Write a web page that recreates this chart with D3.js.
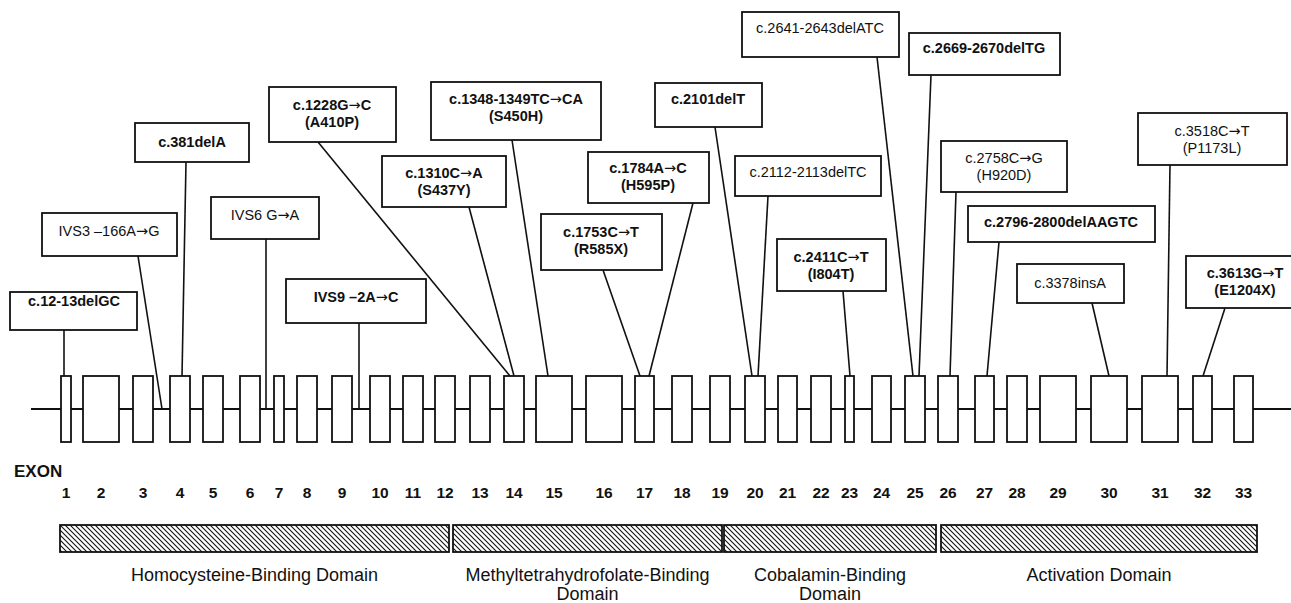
<!DOCTYPE html>
<html>
<head>
<meta charset="utf-8">
<script src="https://cdn.jsdelivr.net/npm/d3@7"></script>
<style>
  body { margin: 0; background: #fff; }
  text { font-family: "Liberation Sans", Arial, Helvetica, sans-serif; fill: #111; }
  .arrow { font-family: "DejaVu Sans", sans-serif; font-weight: normal; }
</style>
</head>
<body>
<div id="chart"></div>
<script>
// exon data (schematic gene units)
const exonNames = ["1","2","3","4","5","6","7","8","9","10","11","12","13","14","15","16","17",
    "18","19","20","21","22","23","24","25","26","27","28","29","30","31","32","33"];
const exonStart = [61,83,133,170,203,240,274,297,332,370,403,435,470,504,536,586,635,
    672,710,745,778,811,845,872,905,938,975,1007,1040,1091,1142,1193,1234];
const exonEnd = [71,119,153,190,223,260,284,317,352,390,423,455,490,524,572,622,654,
    692,730,765,797,831,854,891,925,958,994,1027,1076,1127,1178,1212,1253];

// mutations
const mutNames = ["c.12-13delGC","IVS3 \u2013166A\u2192G","c.381delA","IVS6 G\u2192A","IVS9 \u20132A\u2192C",
    "c.1228G\u2192C","c.1310C\u2192A","c.1348-1349TC\u2192CA","c.2101delT","c.1784A\u2192C","c.1753C\u2192T",
    "c.2112-2113delTC","c.2411C\u2192T","c.2641-2643delATC","c.2669-2670delTG","c.2758C\u2192G",
    "c.2796-2800delAAGTC","c.3378insA","c.3518C\u2192T","c.3613G\u2192T"];
const mutProtein = ["","","","","","(A410P)","(S437Y)","(S450H)","","(H595P)","(R585X)",
    "","(I804T)","","","(H920D)","","","(P1173L)","(E1204X)"];
const mutBold = [true,false,true,false,true,true,true,true,true,true,true,
    false,true,false,true,false,true,false,false,true];
// site on the gene: exon number or 0 for intron
const mutExon = [1,0,4,0,0,14,14,15,20,17,17,20,23,25,25,26,27,30,31,32];
const mutSite = [64,162,182,266,359,510,514,548,752,649,640,758,850,913,919,950,987,1109,1167,1203];

// domains
const domainNames = [["Homocysteine-Binding Domain"],["Methyltetrahydrofolate-Binding","Domain"],
    ["Cobalamin-Binding","Domain"],["Activation Domain"]];
const domainStart = [60,453,724,941];
const domainEnd = [449,722,936,1257];

// label box layout: x0, y0, x1, y1, text x, text y, anchor x
const boxLayout = [
    [10,292,137,330,74,301,64],
    [42,213,177,256,109,231,138],
    [135,123,249,162,192,142,186],
    [211,197,319,239,265,215,266],
    [286,279,426,323,356,297,359],
    [269,87,396,142,332,105,318],
    [382,156,506,207,444,173,469],
    [431,82,601,140,516,99,512],
    [655,83,762,127,708,99,715],
    [588,152,709,203,648,168,693],
    [541,214,662,270,601,232,603],
    [735,156,881,196,808,172,768],
    [777,239,886,291,831,257,843],
    [742,12,899,57,820,28,877],
    [909,33,1060,75,984,48,931],
    [941,141,1067,192,1004,158,956],
    [968,206,1155,242,1061,222,999],
    [1017,264,1124,303,1070,283,1092],
    [1138,113,1287,165,1212,131,1170],
    [1186,256,1296,308,1245,273,1225]
];

const svgWidth = 1291;
const svgHeight = 603;
const geneY = 409;
const exonTop = 376;
const exonBottom = 442;

const svg = d3.select("#chart")
    .append("svg")
    .attr("width", svgWidth)
    .attr("height", svgHeight);

const x = d3.scaleLinear().domain([0, 1291]).range([0, svgWidth]);

// hatch pattern for domains
svg.append("defs").append("pattern")
    .attr("id", "hatch")
    .attr("patternUnits", "userSpaceOnUse")
    .attr("width", 5)
    .attr("height", 5)
    .append("path")
    .attr("d", "M-1,-1 L6,6 M-1,4 L1,6 M4,-1 L6,1")
    .attr("stroke", "#111")
    .attr("stroke-width", 1.1);

// leader lines
const exonIdx = d3.range(exonNames.length);
svg.append("g").selectAll("line")
    .data(boxLayout)
    .enter()
    .append("line")
    .attr("x1", d => d[6])
    .attr("y1", d => d[3])
    .attr("x2", (d, i) => x(mutSite[i]))
    .attr("y2", (d, i) => mutExon[i] ? exonTop : geneY)
    .attr("stroke", "#111")
    .attr("stroke-width", 1.6);

// gene backbone
svg.append("line")
    .attr("x1", 31)
    .attr("x2", svgWidth)
    .attr("y1", geneY)
    .attr("y2", geneY)
    .attr("stroke", "#111")
    .attr("stroke-width", 2);

// exons
svg.append("g").selectAll("rect")
    .data(exonIdx)
    .enter()
    .append("rect")
    .attr("x", i => x(exonStart[i]))
    .attr("y", exonTop)
    .attr("width", i => x(exonEnd[i]) - x(exonStart[i]))
    .attr("height", exonBottom - exonTop)
    .attr("fill", "#fff")
    .attr("stroke", "#111")
    .attr("stroke-width", 1.8);

// mutation boxes
const boxes = svg.append("g").selectAll("g")
    .data(boxLayout)
    .enter()
    .append("g");

boxes.append("rect")
    .attr("x", d => d[0])
    .attr("y", d => d[1])
    .attr("width", d => d[2] - d[0])
    .attr("height", d => d[3] - d[1])
    .attr("fill", "#fff")
    .attr("stroke", "#111")
    .attr("stroke-width", 1.8);

// split text so the arrow gets a font that draws it full size
function addLabel(sel, str) {
    const parts = str.split("\u2192");
    parts.forEach((p, k) => {
        if (k > 0) sel.append("tspan").attr("class", "arrow").text("\u2192");
        sel.append("tspan").text(p);
    });
}

boxes.append("text")
    .attr("x", d => d[4])
    .attr("y", d => d[5] + 5)
    .attr("text-anchor", "middle")
    .attr("font-size", 14.5)
    .attr("font-weight", (d, i) => mutBold[i] ? "bold" : "normal")
    .each(function (d, i) { addLabel(d3.select(this), mutNames[i]); });

boxes.append("text")
    .attr("x", d => d[4])
    .attr("y", d => d[5] + 22)
    .attr("text-anchor", "middle")
    .attr("font-size", 14.5)
    .attr("font-weight", (d, i) => mutBold[i] ? "bold" : "normal")
    .text((d, i) => mutProtein[i]);

// exon labels
svg.append("text")
    .attr("x", 14)
    .attr("y", 477)
    .attr("font-size", 17)
    .attr("font-weight", "bold")
    .text("EXON");

svg.append("g").selectAll("text")
    .data(exonIdx)
    .enter()
    .append("text")
    .attr("x", i => x((exonStart[i] + exonEnd[i]) / 2))
    .attr("y", 498)
    .attr("text-anchor", "middle")
    .attr("font-size", 15.5)
    .attr("font-weight", "bold")
    .text(i => exonNames[i]);

// domains
const domains = svg.append("g").selectAll("g")
    .data(domainNames)
    .enter()
    .append("g");

domains.append("rect")
    .attr("x", (d, i) => x(domainStart[i]))
    .attr("y", 525)
    .attr("width", (d, i) => x(domainEnd[i]) - x(domainStart[i]))
    .attr("height", 27)
    .attr("fill", "url(#hatch)")
    .attr("stroke", "#111")
    .attr("stroke-width", 1.8);

domains.selectAll("text")
    .data((d, i) => d.map(t => ({ t: t, i: i })))
    .enter()
    .append("text")
    .attr("x", d => x((domainStart[d.i] + domainEnd[d.i]) / 2))
    .attr("y", (d, j) => 581 + j * 19)
    .attr("text-anchor", "middle")
    .attr("font-size", 18)
    .text(d => d.t);
</script>
</body>
</html>
